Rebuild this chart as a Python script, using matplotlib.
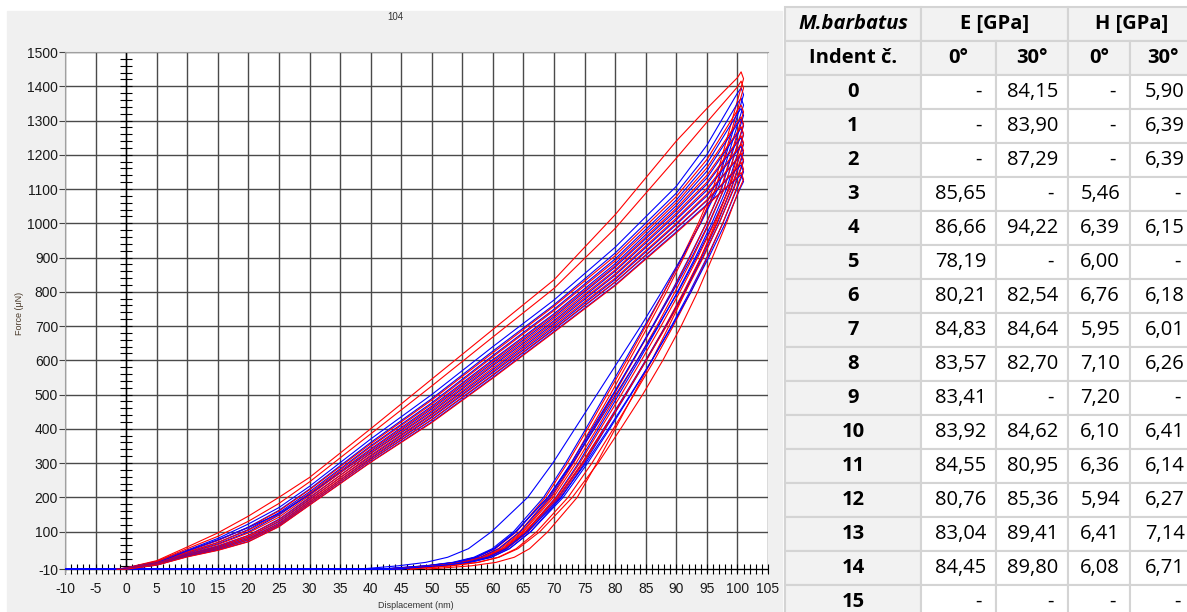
import numpy as np
import matplotlib
matplotlib.use('Agg')
import matplotlib.pyplot as plt
from matplotlib.patches import Rectangle

plt.rcParams['axes.unicode_minus'] = False

# ---- indentation curves ----
# loading part: force (uN) at these displacements (nm)
load_x = [0, 5, 10, 15, 20, 25, 30, 40, 50, 60, 70, 80, 90, 95, 100]
# unloading part: displacement (nm) at these force levels (uN)
unload_f = [1100, 1000, 900, 800, 700, 600, 500, 400, 300, 200, 100, 50, 25, 10, 0, -10]

blue_fmax = [1395, 1365, 1335, 1305, 1278, 1250, 1225, 1200, 1170, 1142]
blue_load = [
    [-6, 13, 46, 80, 122, 170, 232, 370, 500, 640, 776, 930, 1108, 1228, 1380],
    [-7, 12, 42, 74, 113, 162, 224, 360, 488, 627, 762, 913, 1088, 1200, 1350],
    [-7, 10, 39, 68, 106, 155, 216, 350, 476, 614, 749, 896, 1068, 1174, 1320],
    [-8, 9, 37, 64, 99, 148, 209, 341, 466, 602, 736, 882, 1052, 1152, 1290],
    [-8, 8, 44, 76, 112, 152, 208, 334, 458, 593, 727, 872, 1038, 1132, 1262],
    [-9, 6, 34, 58, 89, 136, 200, 328, 449, 584, 716, 860, 1024, 1114, 1236],
    [-9, 5, 32, 55, 84, 130, 194, 320, 441, 573, 707, 848, 1010, 1096, 1212],
    [-10, 4, 30, 52, 80, 124, 188, 313, 433, 564, 697, 836, 996, 1080, 1188],
    [-10, 3, 29, 49, 76, 119, 183, 308, 426, 556, 690, 828, 984, 1066, 1160],
    [-10, 2, 27, 46, 71, 115, 178, 303, 420, 550, 684, 820, 975, 1055, 1132],
]
blue_unload = [
    [96.5, 93.9, 91.0, 88.0, 84.8, 81.6, 78.4, 75.2, 71.9, 68.3, 63.4, 59.9, 56.9, 53.4, 48.9, 41.5],
    [96.8, 94.0, 90.9, 87.6, 84.2, 80.6, 77.0, 73.4, 69.8, 65.7, 59.8, 56.0, 52.6, 49.0, 44.5, 38.0],
    [97.4, 94.9, 92.1, 89.2, 86.1, 82.9, 79.7, 76.4, 73.1, 69.4, 64.5, 61.0, 58.0, 54.5, 50.0, 42.5],
    [97.8, 95.3, 92.5, 89.4, 86.2, 82.9, 79.6, 76.2, 72.8, 69.0, 63.8, 60.3, 57.3, 53.8, 49.3, 42.0],
    [98.2, 95.8, 93.1, 90.2, 87.1, 83.9, 80.6, 77.3, 74.0, 70.3, 65.4, 61.9, 58.9, 55.4, 50.9, 43.5],
    [98.6, 96.1, 93.3, 90.3, 87.0, 83.6, 80.1, 76.6, 73.0, 69.0, 63.7, 60.2, 57.2, 53.7, 49.2, 41.0],
    [99.0, 96.7, 94.1, 91.3, 88.3, 85.1, 81.8, 78.4, 75.0, 71.2, 66.2, 62.7, 59.7, 56.2, 51.7, 44.5],
    [99.4, 97.0, 94.3, 91.4, 88.3, 85.0, 81.6, 78.1, 74.6, 70.7, 65.5, 62.0, 59.0, 55.5, 51.0, 43.0],
    [99.9, 97.6, 95.0, 92.2, 89.2, 86.0, 82.6, 79.1, 75.5, 71.5, 66.2, 62.7, 59.8, 56.3, 51.8, 44.0],
    [100.4, 98.0, 95.3, 92.4, 89.3, 86.0, 82.5, 78.9, 75.2, 71.1, 65.7, 62.2, 59.2, 55.7, 51.2, 43.8],
]

red_fmax = [1442, 1415, 1345, 1310, 1282, 1255, 1232, 1205, 1178, 1148]
red_load = [
    [-6, 15, 55, 96, 145, 200, 258, 400, 545, 690, 835, 1025, 1240, 1335, 1425],
    [-7, 13, 50, 86, 130, 182, 245, 385, 525, 668, 810, 985, 1190, 1295, 1398],
    [-7, 11, 44, 74, 112, 160, 222, 356, 484, 622, 758, 905, 1078, 1186, 1330],
    [-8, 9, 40, 68, 104, 150, 212, 347, 472, 610, 745, 890, 1060, 1162, 1295],
    [-8, 7, 36, 62, 96, 142, 205, 338, 462, 598, 732, 876, 1044, 1140, 1266],
    [-9, 6, 33, 57, 88, 134, 198, 330, 453, 588, 722, 864, 1030, 1120, 1240],
    [-9, 5, 31, 54, 84, 128, 192, 323, 444, 578, 712, 852, 1015, 1102, 1216],
    [-10, 4, 30, 51, 79, 122, 187, 316, 436, 568, 702, 840, 1000, 1085, 1190],
    [-10, 3, 28, 48, 75, 118, 182, 309, 427, 558, 692, 829, 986, 1068, 1163],
    [-10, 2, 26, 45, 70, 114, 177, 302, 418, 548, 682, 818, 972, 1052, 1135],
]
red_unload = [
    [96.0, 93.6, 90.9, 88.0, 85.0, 81.9, 78.7, 75.5, 72.2, 68.6, 63.9, 60.4, 57.4, 53.9, 49.4, 42.0],
    [96.4, 93.9, 91.2, 88.4, 85.4, 82.3, 79.2, 76.0, 72.8, 69.2, 64.4, 60.9, 57.9, 54.4, 49.9, 42.5],
    [97.3, 94.9, 92.2, 89.3, 86.2, 83.0, 79.8, 76.5, 73.2, 69.6, 64.8, 61.3, 58.3, 54.8, 50.3, 43.0],
    [97.8, 95.4, 92.7, 89.8, 86.8, 83.6, 80.3, 77.0, 73.6, 69.9, 65.0, 61.6, 58.6, 55.1, 50.6, 43.2],
    [98.5, 96.4, 94.0, 91.5, 88.8, 86.0, 83.0, 80.0, 77.0, 73.8, 69.0, 66.0, 63.5, 60.5, 56.5, 49.0],
    [98.6, 96.2, 93.5, 90.6, 87.5, 84.3, 81.0, 77.6, 74.2, 70.4, 65.3, 61.8, 58.8, 55.3, 50.8, 43.5],
    [98.9, 96.6, 94.0, 91.2, 88.2, 85.0, 81.7, 78.3, 74.8, 70.9, 65.8, 62.3, 59.3, 55.8, 51.3, 44.0],
    [99.3, 97.0, 94.4, 91.5, 88.4, 85.1, 81.7, 78.2, 74.6, 70.6, 65.4, 61.9, 58.9, 55.4, 50.9, 43.5],
    [99.8, 97.6, 95.1, 92.4, 89.5, 86.4, 83.1, 79.7, 76.2, 72.3, 67.2, 63.8, 60.9, 57.5, 53.0, 46.0],
    [100.3, 98.2, 95.9, 93.5, 90.8, 87.8, 84.5, 80.9, 77.2, 73.0, 67.7, 64.1, 61.0, 57.6, 53.2, 46.5],
]

# ---- table on the right ----
indent_no = [str(i) for i in range(16)]
e_0 = ['-', '-', '-', '85,65', '86,66', '78,19', '80,21', '84,83', '83,57', '83,41',
       '83,92', '84,55', '80,76', '83,04', '84,45', '-']
e_30 = ['84,15', '83,90', '87,29', '-', '94,22', '-', '82,54', '84,64', '82,70', '-',
        '84,62', '80,95', '85,36', '89,41', '89,80', '-']
h_0 = ['-', '-', '-', '5,46', '6,39', '6,00', '6,76', '5,95', '7,10', '7,20',
       '6,10', '6,36', '5,94', '6,41', '6,08', '-']
h_30 = ['5,90', '6,39', '6,39', '-', '6,15', '-', '6,18', '6,01', '6,26', '-',
        '6,41', '6,14', '6,27', '7,14', '6,71', '-']

W, H = 1187, 612
fig = plt.figure(figsize=(W / 100, H / 100), dpi=100)
fig.patch.set_facecolor('white')
fig.patches.append(Rectangle((7 / W, 0), (782 - 7) / W, (H - 11) / H,
                             transform=fig.transFigure, color='#f0f0f0', zorder=-10))

ax = fig.add_axes([65 / W, 1 - 573 / H, (768 - 65) / W, (573 - 52) / H])
ax.set_zorder(2)
ax.set_facecolor('white')
ax.set_xlim(-10, 105)
ax.set_ylim(-21, 1500)

ax.set_xticks(np.arange(-10, 106, 5))
ax.set_xticks(np.arange(-10, 106, 1), minor=True)
ax.set_yticks([-10] + list(range(100, 1501, 100)))
ax.grid(True, which='major', color='#4a4a4a', lw=1.0)
ax.set_axisbelow(True)

ax.spines['bottom'].set_position(('data', -10))
ax.spines['bottom'].set_color('black')
ax.spines['right'].set_visible(False)
ax.spines['left'].set_color('#a0a0a0')
ax.spines['top'].set_color('#a0a0a0')
ax.tick_params(axis='x', which='both', direction='inout', length=7, width=0.8,
               pad=6, labelsize=10)
ax.tick_params(axis='y', direction='out', length=4, width=0.8, pad=1,
               labelsize=10, color='#444444')
for lab in ax.get_xticklabels() + ax.get_yticklabels():
    lab.set_family('Liberation Sans')
    lab.set_color('#1a1a1a')

# vertical axis through x = 0 with cross ticks
ax.axvline(0, color='black', lw=1.0, zorder=1)
ty = np.arange(0, 1500, 20)
ax.plot(np.zeros(len(ty)), ty, ls='none', marker='_', ms=9, mew=0.8, color='black', zorder=1)


def curve(fmax, load, unload, retract):
    xs = [-1.5] + load_x + [100.6, 101.0] + unload
    ys = [-10] + load + [fmax, fmax - 20] + unload_f
    if retract:
        xs = xs + [-10]
        ys = ys + [-10]
    return xs, ys


for i in range(len(blue_fmax)):
    bx, by = curve(blue_fmax[i], blue_load[i], blue_unload[i], True)
    ax.plot(bx, by, color='#0000ff', lw=0.8, zorder=3)
    rx, ry = curve(red_fmax[i], red_load[i], red_unload[i], False)
    ax.plot(rx, ry, color='#ff0000', lw=0.8, zorder=3)

fig.text(395 / W, 1 - 17 / H, '104', fontsize=7, ha='center', va='center',
         family='Liberation Sans', color='#333333')
fig.text(20 / W, 1 - 313 / H, 'Force (μN)', fontsize=6.5, rotation=90,
         ha='center', va='center', family='Liberation Sans', color='#4a3a2a')
fig.text(416 / W, 1 - 606 / H, 'Displacement (nm)', fontsize=6.5,
         ha='center', va='center', family='Liberation Sans', color='#333333')

# ---- table ----
tab = fig.add_axes([783 / W, 0, (W - 783) / W, 1])
tab.set_xlim(783, W)
tab.set_ylim(H, 0)
tab.axis('off')

col_edges = [785, 921, 996, 1068, 1130, 1195]
row_h = 34
head_top = 7
data_top = 75
grey = '#f2f2f2'
line = '#d4d4d4'
fs = 14.5
tfont = 'Open Sans'


def cell(x0, x1, y0, y1, fill):
    tab.add_patch(Rectangle((x0, y0), x1 - x0, y1 - y0, facecolor=fill,
                            edgecolor=line, lw=1.5))


# header row 1
cell(col_edges[0], col_edges[1], head_top, head_top + row_h, grey)
cell(col_edges[1], col_edges[3], head_top, head_top + row_h, grey)
cell(col_edges[3], col_edges[5], head_top, head_top + row_h, grey)
yc = head_top + row_h / 2
tab.text((col_edges[0] + col_edges[1]) / 2, yc, 'M.barbatus', fontsize=fs,
         weight='bold', style='italic', ha='center', va='center', family=tfont)
tab.text((col_edges[1] + col_edges[3]) / 2, yc, 'E [GPa]', fontsize=fs,
         weight='bold', ha='center', va='center', family=tfont)
tab.text((col_edges[3] + col_edges[5]) / 2, yc, 'H [GPa]', fontsize=fs,
         weight='bold', ha='center', va='center', family=tfont)

# header row 2
sub = ['Indent č.', '0°', '30°', '0°', '30°']
y0 = head_top + row_h
for j in range(5):
    cell(col_edges[j], col_edges[j + 1], y0, y0 + row_h, grey)
    tab.text((col_edges[j] + col_edges[j + 1]) / 2, y0 + row_h / 2, sub[j],
             fontsize=fs, weight='bold', ha='center', va='center', family=tfont)

# data rows
cols = [e_0, e_30, h_0, h_30]
for i in range(len(indent_no)):
    y0 = data_top + i * row_h
    yc = y0 + row_h / 2
    cell(col_edges[0], col_edges[1], y0, y0 + row_h, grey)
    tab.text((col_edges[0] + col_edges[1]) / 2, yc, indent_no[i], fontsize=fs,
             weight='bold', ha='center', va='center', family=tfont)
    for j, c in enumerate(cols):
        x1 = col_edges[j + 2]
        cell(col_edges[j + 1], x1, y0, y0 + row_h, 'white')
        pad = 14 if c[i] == '-' else 10
        tab.text(x1 - pad, yc, c[i], fontsize=fs, ha='right', va='center',
                 family=tfont)

fig.savefig('out.png', dpi=100)
